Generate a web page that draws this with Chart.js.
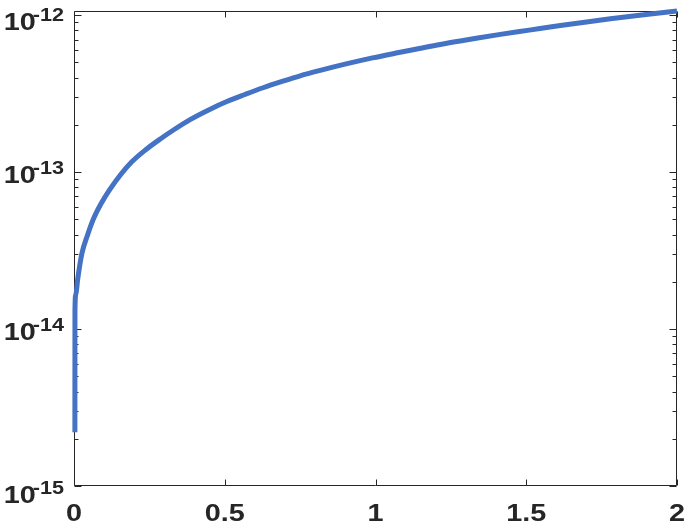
<!DOCTYPE html>
<html><head><meta charset="utf-8">
<script src="https://cdn.jsdelivr.net/npm/chart.js@4/dist/chart.umd.min.js"></script>
<style>html,body{margin:0;padding:0;background:#fff;overflow:hidden;}</style>
</head><body>
<canvas id="c" width="684" height="523" style="width:684px;height:523px;display:block"></canvas>
<script>
// ---- data ----
const xValues = [0.0030, 0.0032, 0.006, 0.012, 0.026, 0.045, 0.064, 0.09, 0.119, 0.155, 0.191, 0.24, 0.285, 0.335, 0.385, 0.45, 0.507, 0.567, 0.627, 0.69, 0.75, 0.82, 0.899, 0.99, 1.082, 1.15, 1.215, 1.31, 1.414, 1.51, 1.613, 1.70, 1.779, 1.89, 2.0];
const yValues = [2.2e-15, 1.32e-14, 1.66e-14, 2.06e-14, 3.02e-14, 3.98e-14, 5.01e-14, 6.31e-14, 7.76e-14, 9.66e-14, 1.16e-13, 1.40e-13, 1.622e-13, 1.884e-13, 2.163e-13, 2.512e-13, 2.818e-13, 3.126e-13, 3.451e-13, 3.784e-13, 4.111e-13, 4.467e-13, 4.875e-13, 5.346e-13, 5.808e-13, 6.166e-13, 6.516e-13, 6.998e-13, 7.551e-13, 8.035e-13, 8.59e-13, 9.057e-13, 9.484e-13, 1.007e-12, 1.064e-12];
const xTickValues = [0, 0.5, 1, 1.5, 2];
const xTickLabels = ['0', '0.5', '1', '1.5', '2'];
const yDecadeExponents = [-15, -14, -13, -12];
const yMinorMultipliers = [2, 3, 4, 5, 6, 7, 8, 9];
const xRange = [0, 2];
const yRange = [1e-15, 1.064e-12];

const points = xValues.map((x, i) => ({x: x, y: yValues[i]}));

const AXIS_COLOR = '#262626';
const FONT_FAMILY = '"Liberation Sans", Arial, Helvetica, sans-serif';
const STRETCH = 1.2;
const BASE_SIZE = 24;
const SUP_SIZE = 18;

function drawText(ctx, str, x, y, size, align) {
  ctx.save();
  ctx.font = 'bold ' + size + 'px ' + FONT_FAMILY;
  const w = ctx.measureText(str).width * STRETCH;
  let sx = x;
  if (align === 'center') sx = x - w / 2;
  else if (align === 'right') sx = x - w;
  ctx.translate(sx, y);
  ctx.scale(STRETCH, 1);
  ctx.textAlign = 'left';
  ctx.textBaseline = 'alphabetic';
  ctx.fillText(str, 0, 0);
  ctx.restore();
  return w;
}
function textWidth(ctx, str, size) {
  ctx.save();
  ctx.font = 'bold ' + size + 'px ' + FONT_FAMILY;
  const w = ctx.measureText(str).width * STRETCH;
  ctx.restore();
  return w;
}

const axesPlugin = {
  id: 'matlabAxes',
  beforeDatasetsDraw(chart) {
    const ctx = chart.ctx;
    const a = chart.chartArea;
    const xs = chart.scales.x, ys = chart.scales.y;
    ctx.save();
    ctx.strokeStyle = AXIS_COLOR;
    ctx.lineWidth = 1;
    const L = Math.round(a.left) + 0.5, R = Math.round(a.right) - 0.5;
    const T = Math.round(a.top) + 0.5, B = Math.round(a.bottom) - 0.5;
    ctx.beginPath();
    ctx.rect(L, T, R - L, B - T);
    ctx.stroke();
    ctx.beginPath();
    xTickValues.forEach(v => {
      const px = Math.round(xs.getPixelForValue(v)) + 0.5;
      ctx.moveTo(px, B); ctx.lineTo(px, B - 6);
      ctx.moveTo(px, T); ctx.lineTo(px, T + 6);
    });
    yDecadeExponents.forEach(e => {
      const v = Math.pow(10, e);
      const py = Math.round(ys.getPixelForValue(v)) + 0.5;
      ctx.moveTo(L, py); ctx.lineTo(L + 7, py);
      ctx.moveTo(R, py); ctx.lineTo(R - 7, py);
      yMinorMultipliers.forEach(m => {
        const mv = m * v;
        if (mv > yRange[1]) return;
        const my = Math.round(ys.getPixelForValue(mv)) + 0.5;
        ctx.moveTo(L, my); ctx.lineTo(L + 4, my);
        ctx.moveTo(R, my); ctx.lineTo(R - 4, my);
      });
    });
    ctx.stroke();
    ctx.restore();
  },
  afterDraw(chart) {
    const ctx = chart.ctx;
    const xs = chart.scales.x, ys = chart.scales.y;
    ctx.save();
    ctx.fillStyle = AXIS_COLOR;
    xTickValues.forEach((v, i) => {
      drawText(ctx, xTickLabels[i], xs.getPixelForValue(v), 520.5, BASE_SIZE, 'center');
    });
    const last = yDecadeExponents.length - 1;
    yDecadeExponents.forEach((e, i) => {
      let ty = ys.getPixelForValue(Math.pow(10, e));
      if (i === 0) ty += 6;
      if (i === last) ty += 4;
      const sup = String(e);
      const wb = textWidth(ctx, '10', BASE_SIZE);
      const wsup = textWidth(ctx, sup, SUP_SIZE);
      const right = 64;
      const start = right - (wb + wsup - 3);
      drawText(ctx, '10', start, ty + 11, BASE_SIZE, 'left');
      drawText(ctx, sup, start + wb - 3, ty + 1.5, SUP_SIZE, 'left');
    });
    ctx.restore();
  }
};

new Chart(document.getElementById('c'), {
  type: 'scatter',
  data: {
    datasets: [{
      data: points,
      showLine: true,
      borderColor: 'rgb(68,114,196)',
      backgroundColor: 'rgb(68,114,196)',
      borderWidth: 5,
      pointRadius: 0,
      cubicInterpolationMode: 'monotone',
      clip: false
    }]
  },
  options: {
    responsive: false,
    animation: false,
    devicePixelRatio: 1,
    layout: { padding: { left: 74, right: 7, top: 11, bottom: 37 } },
    plugins: { legend: { display: false }, tooltip: { enabled: false } },
    scales: {
      x: { type: 'linear', min: xRange[0], max: xRange[1], display: false },
      y: { type: 'logarithmic', min: yRange[0], max: yRange[1], display: false }
    }
  },
  plugins: [axesPlugin]
});
</script>
</body></html>
